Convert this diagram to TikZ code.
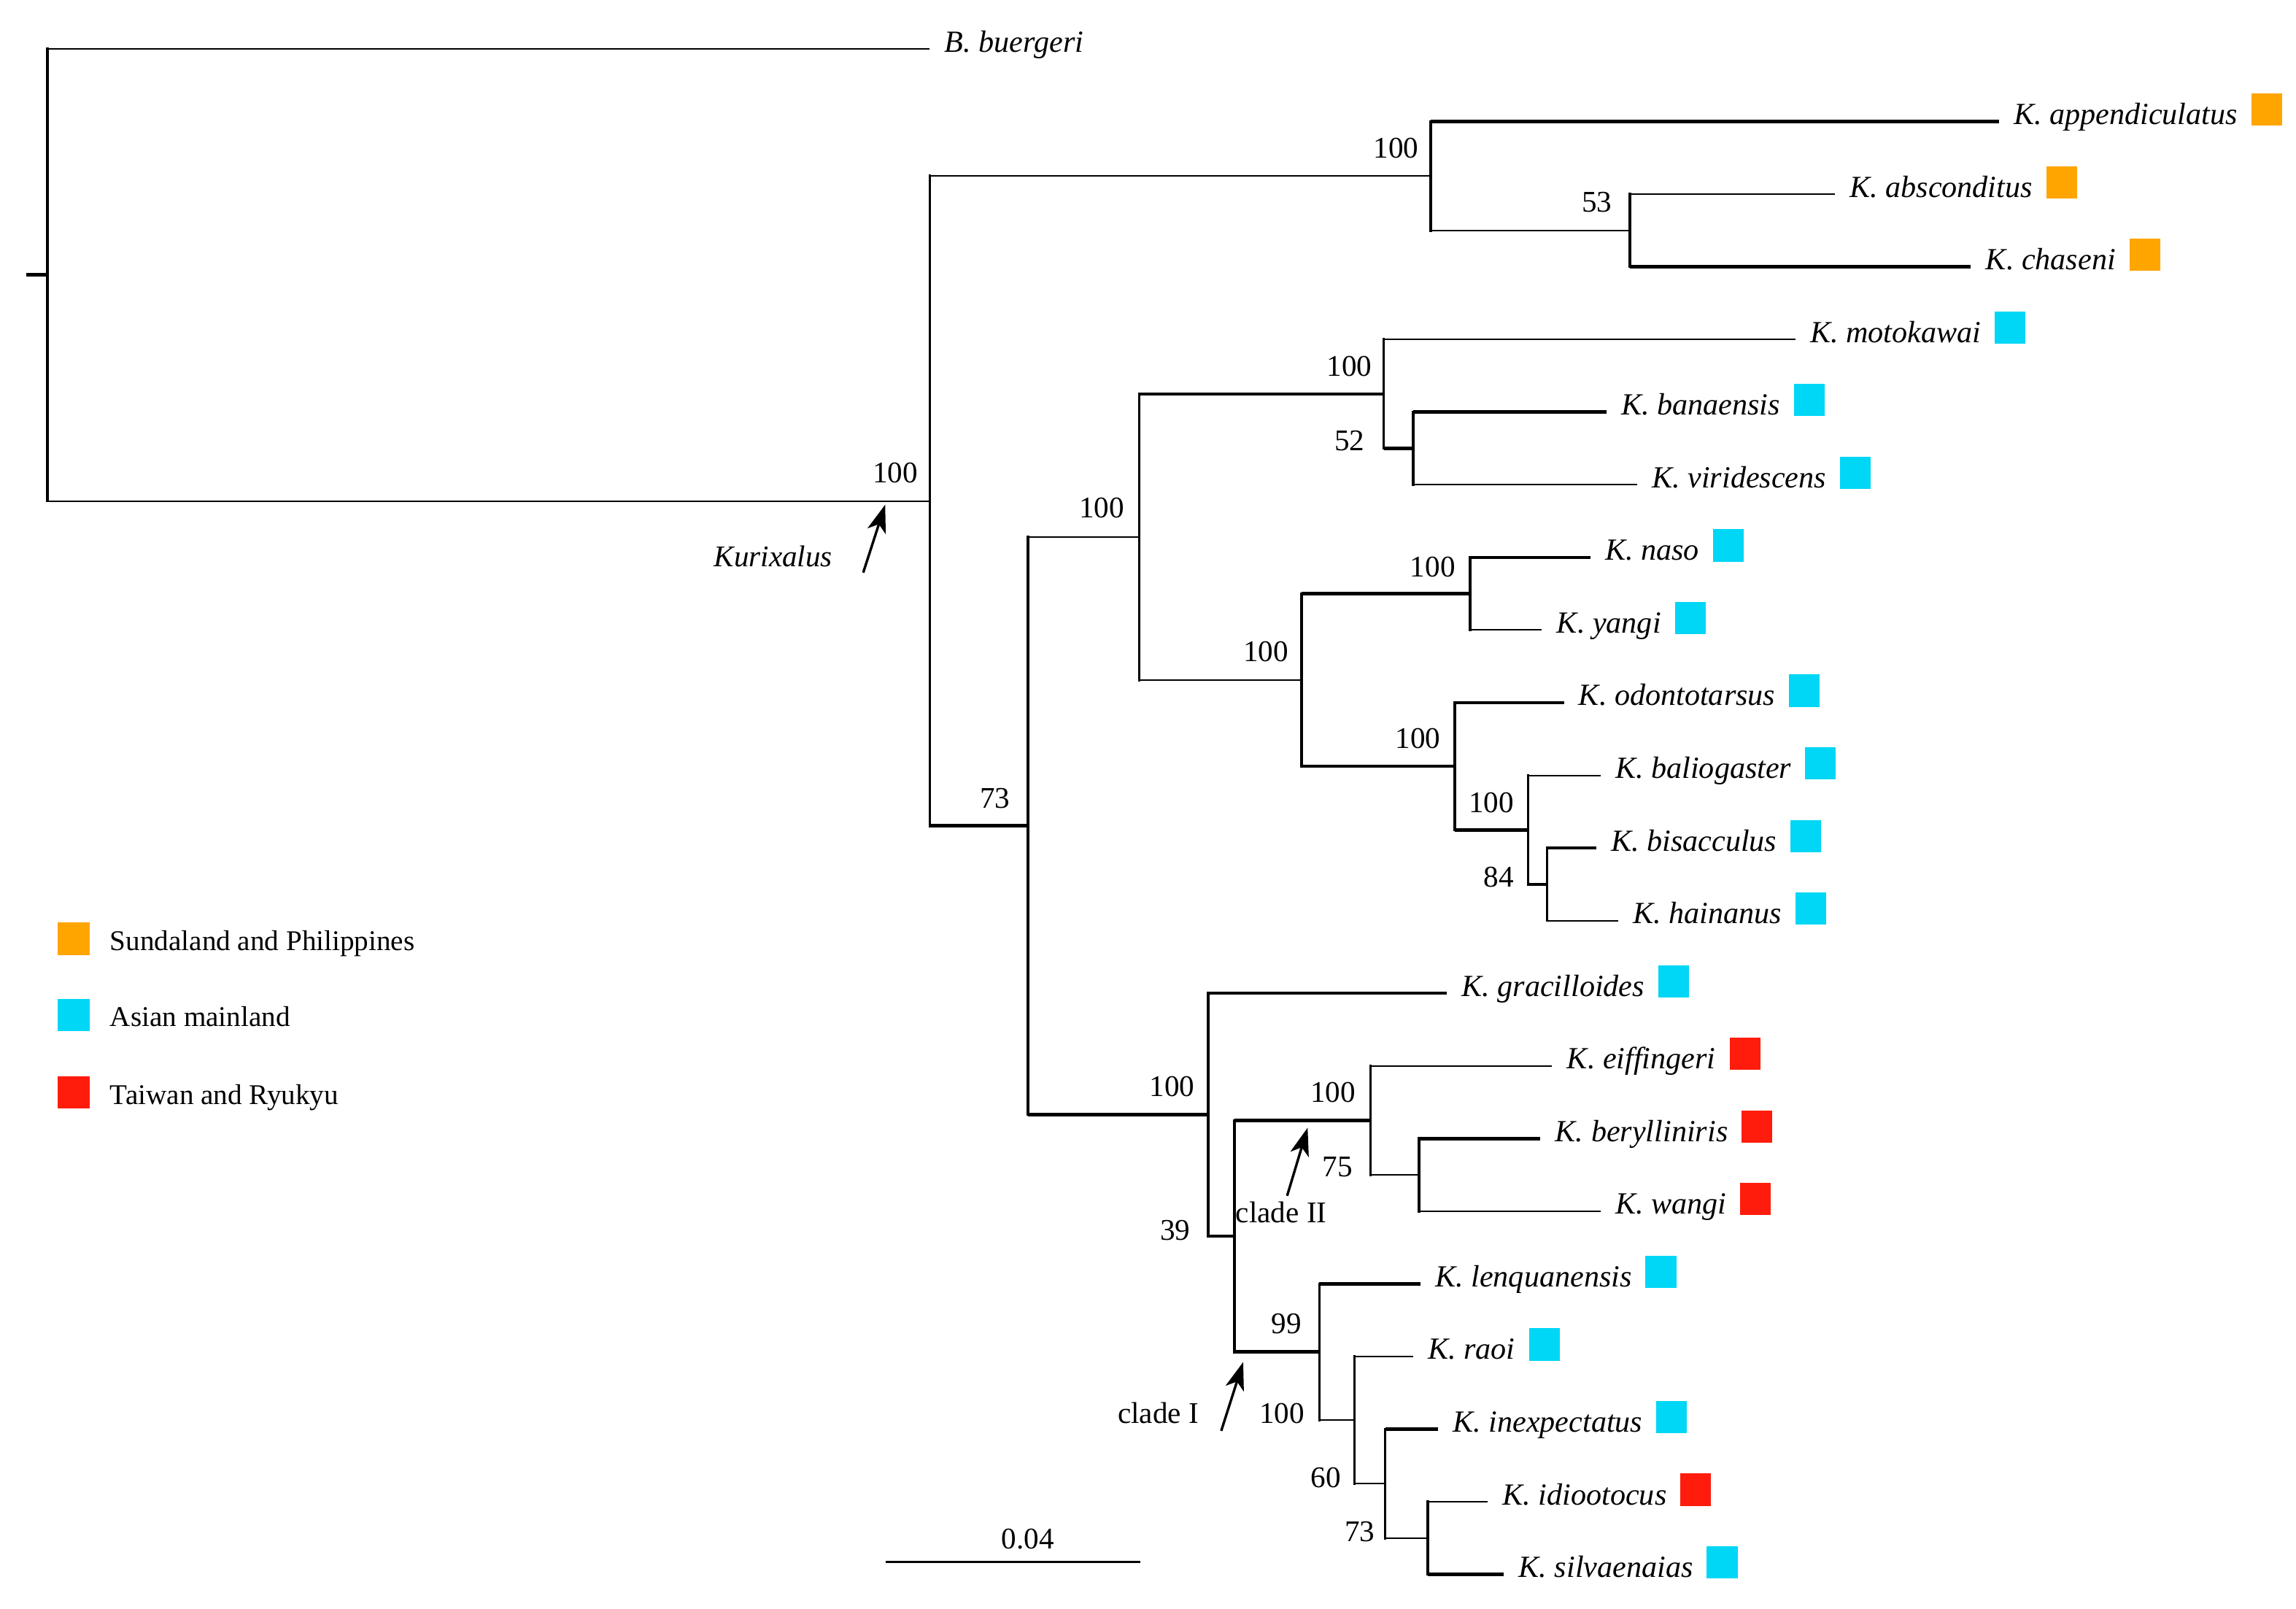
\documentclass[tikz,border=0pt]{standalone}
\usepackage{fontspec}
\setmainfont{Liberation Serif}
\usetikzlibrary{arrows.meta}
\definecolor{orSq}{RGB}{255,165,0}
\definecolor{cySq}{RGB}{0,214,245}
\definecolor{rdSq}{RGB}{255,28,12}
\tikzset{
  hthin/.style={line width=1.0pt},
  hthick/.style={line width=2.3pt},
  vline/.style={line width=1.8pt, line cap=rect},
  leaflab/.style={font=\fontsize{21}{24}\selectfont\itshape, anchor=base west, inner sep=0pt},
  bsv/.style={font=\fontsize{20.5}{24}\selectfont, anchor=east, inner sep=0pt},
  txt/.style={font=\fontsize{20.5}{24}\selectfont, inner sep=0pt},
  legtxt/.style={font=\fontsize{19.5}{23}\selectfont, inner sep=0pt, anchor=base west},
  sqbox/.style={minimum width=21pt, minimum height=22pt, inner sep=0pt, draw=none},
  arr/.style={line width=1.7pt, -{Stealth[length=19pt,width=13pt,inset=5pt]}},
}
% #1 id, #2 tip x, #3 y, #4 label, #5 colour
\newcommand\mkleaf[5]{%
  \coordinate (#1) at (#2,#3);
  \node[leaflab] (#1-lab) at (#2+10,#3+2) {#4};
  \node[sqbox, fill=#5, anchor=south west] (#1-sq) at ([xshift=9pt,yshift=-1pt]#1-lab.base east) {};
}
% #1 node, #2 child1, #3 style1, #4 child2, #5 style2
\newcommand\mkkids[5]{%
  \draw[vline] (#1|-#2) -- (#1|-#4);
  \draw[#3] (#1|-#2) -- (#2);
  \draw[#5] (#1|-#4) -- (#4);
}
\begin{document}
\begin{tikzpicture}[x=1pt,y=-1pt]
\useasboundingbox (0,0) rectangle (1568,1098.2);

% leaves
\coordinate (buer) at (635,33.4);
\node[leaflab] (buer-lab) at (645,35.4) {B. buergeri};
\mkleaf{app}{1365}{83}{K. appendiculatus}{orSq}
\mkleaf{abs}{1253}{132.6}{K. absconditus}{orSq}
\mkleaf{cha}{1346}{182.2}{K. chaseni}{orSq}
\mkleaf{mot}{1226}{231.8}{K. motokawai}{cySq}
\mkleaf{ban}{1097}{281.4}{K. banaensis}{cySq}
\mkleaf{vir}{1118}{331}{K. viridescens}{cySq}
\mkleaf{nas}{1086}{380.6}{K. naso}{cySq}
\mkleaf{yan}{1053}{430.2}{K. yangi}{cySq}
\mkleaf{odo}{1068}{479.8}{K. odontotarsus}{cySq}
\mkleaf{bal}{1093}{529.4}{K. baliogaster}{cySq}
\mkleaf{bis}{1090}{579}{K. bisacculus}{cySq}
\mkleaf{hai}{1105}{628.6}{K. hainanus}{cySq}
\mkleaf{gra}{988}{678.2}{K. gracilloides}{cySq}
\mkleaf{eif}{1060}{727.8}{K. eiffingeri}{rdSq}
\mkleaf{ber}{1052}{777.4}{K. berylliniris}{rdSq}
\mkleaf{wan}{1093}{827}{K. wangi}{rdSq}
\mkleaf{len}{970}{876.6}{K. lenquanensis}{cySq}
\mkleaf{rao}{965}{926.2}{K. raoi}{cySq}
\mkleaf{ine}{982}{975.8}{K. inexpectatus}{cySq}
\mkleaf{idi}{1016}{1025.4}{K. idiootocus}{rdSq}
\mkleaf{sil}{1027}{1075}{K. silvaenaias}{cySq}

% internal nodes
\coordinate (U) at (975,1050.2);
\coordinate (T) at (946,1013);
\coordinate (S) at (925,969.6);
\coordinate (P) at (901,923.1);
\coordinate (Q) at (969,802.2);
\coordinate (O) at (936,765);
\coordinate (N) at (843,844.05);
\coordinate (E) at (825,761.1);
\coordinate (M) at (1056.5,603.8);
\coordinate (L) at (1043.5,566.6);
\coordinate (J) at (993.5,523.2);
\coordinate (I) at (1004,405.4);
\coordinate (G) at (889,464.3);
\coordinate (H) at (965,306.2);
\coordinate (F) at (945,269);
\coordinate (D) at (778,366.65);
\coordinate (B) at (702,563.9);
\coordinate (C) at (1113,157.4);
\coordinate (A) at (977,120.2);
\coordinate (K) at (635,342.05);
\coordinate (R) at (32.5,187.7);
\coordinate (stub) at (18,187.7);

\draw[hthick] (stub) -- (R);
\mkkids{R}{buer}{hthin}{K}{hthin}
\mkkids{K}{A}{hthin}{B}{hthick}
\mkkids{A}{app}{hthick}{C}{hthin}
\mkkids{C}{abs}{hthin}{cha}{hthick}
\mkkids{B}{D}{hthin}{E}{hthick}
\mkkids{D}{F}{hthick}{G}{hthin}
\mkkids{F}{mot}{hthin}{H}{hthick}
\mkkids{H}{ban}{hthick}{vir}{hthin}
\mkkids{G}{I}{hthick}{J}{hthick}
\mkkids{I}{nas}{hthick}{yan}{hthin}
\mkkids{J}{odo}{hthick}{L}{hthick}
\mkkids{L}{bal}{hthin}{M}{hthick}
\mkkids{M}{bis}{hthick}{hai}{hthin}
\mkkids{E}{gra}{hthick}{N}{hthick}
\mkkids{N}{O}{hthick}{P}{hthick}
\mkkids{O}{eif}{hthin}{Q}{hthin}
\mkkids{Q}{ber}{hthick}{wan}{hthin}
\mkkids{P}{len}{hthick}{S}{hthin}
\mkkids{S}{rao}{hthin}{T}{hthin}
\mkkids{T}{ine}{hthick}{U}{hthin}
\mkkids{U}{idi}{hthin}{sil}{hthick}

% bootstrap values
\node[bsv] (bsK) at (627,323) {100};
\node[bsv] (bsA) at (969,101) {100};
\node[bsv] (bsC) at (1101,138) {53};
\node[bsv] (bsF) at (937,250) {100};
\node[bsv] (bsH) at (932,301) {52};
\node[bsv] (bsD) at (768,347) {100};
\node[bsv] (bsI) at (994,387) {100};
\node[bsv] (bsG) at (880,445) {100};
\node[bsv] (bsJ) at (984,504) {100};
\node[bsv] (bsL) at (1034,548) {100};
\node[bsv] (bsM) at (1034,599) {84};
\node[bsv] (bsB) at (690,545) {73};
\node[bsv] (bsE) at (816,742) {100};
\node[bsv] (bsN) at (813,840) {39};
\node[bsv] (bsO) at (926,746) {100};
\node[bsv] (bsQ) at (924,797) {75};
\node[bsv] (bsP) at (889,904) {99};
\node[bsv] (bsS) at (891,965) {100};
\node[bsv] (bsT) at (916,1009) {60};
\node[bsv] (bsU) at (939,1046) {73};

% clade arrows
\node[txt, font=\fontsize{20.5}{24}\selectfont\itshape] (kurlab) at (528,380) {Kurixalus};
\coordinate (kurA) at (589.5,391);
\coordinate (kurB) at (604.5,344.6);
\draw[arr] (kurA) -- (kurB);
\node[txt] (c2lab) at (875,828) {clade II};
\coordinate (c2A) at (879,816.5);
\coordinate (c2B) at (893,770);
\draw[arr] (c2A) -- (c2B);
\node[txt] (c1lab) at (791,965) {clade I};
\coordinate (c1A) at (834,977);
\coordinate (c1B) at (849,930);
\draw[arr] (c1A) -- (c1B);

% scale bar
\coordinate (sb1) at (605,1066.5);
\coordinate (sb2) at (779,1066.5);
\draw[line width=1.2pt] (sb1) -- (sb2);
\node[txt] (sblab) at (702,1051) {0.04};

% legend
\node[sqbox, fill=orSq, minimum width=22pt] (lg1) at (50.5,641) {};
\node[sqbox, fill=cySq, minimum width=22pt] (lg2) at (50.5,693) {};
\node[sqbox, fill=rdSq, minimum width=22pt] (lg3) at (50.5,746) {};
\node[legtxt] (lt1) at (75,649) {Sundaland and Philippines};
\node[legtxt] (lt2) at (75,701) {Asian mainland};
\node[legtxt] (lt3) at (75,754) {Taiwan and Ryukyu};
\end{tikzpicture}
\end{document}
